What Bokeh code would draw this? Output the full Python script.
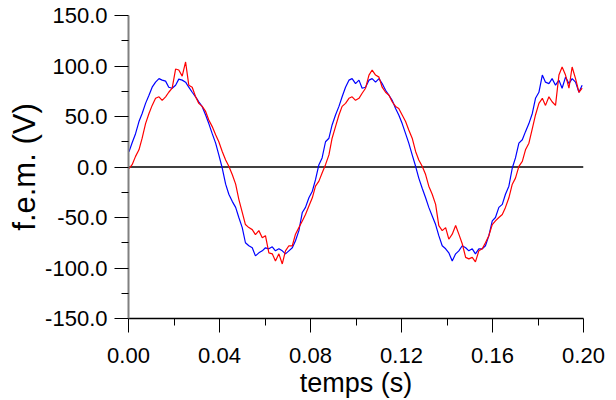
import numpy as np
from bokeh.plotting import figure
from bokeh.models import FixedTicker, PrintfTickFormatter, Span, Range1d
from bokeh.embed import file_html
from bokeh.resources import INLINE

# sample times (s)
T = [0.0002, 0.0016, 0.0031, 0.0046, 0.0060, 0.0075, 0.0090, 0.0104, 0.0119, 0.0134,
     0.0148, 0.0163, 0.0177, 0.0192, 0.0207, 0.0221, 0.0236, 0.0251, 0.0265, 0.0280,
     0.0295, 0.0309, 0.0324, 0.0339, 0.0353, 0.0368, 0.0383, 0.0397, 0.0412, 0.0427,
     0.0441, 0.0456, 0.0471, 0.0485, 0.0500, 0.0514, 0.0529, 0.0544, 0.0558, 0.0573,
     0.0588, 0.0602, 0.0617, 0.0632, 0.0646, 0.0661, 0.0676, 0.0690, 0.0705, 0.0720,
     0.0734, 0.0749, 0.0764, 0.0778, 0.0793, 0.0808, 0.0822, 0.0837, 0.0851, 0.0866,
     0.0881, 0.0895, 0.0910, 0.0925, 0.0939, 0.0954, 0.0969, 0.0983, 0.0998, 0.1013,
     0.1027, 0.1042, 0.1057, 0.1071, 0.1086, 0.1101, 0.1115, 0.1130, 0.1145, 0.1159,
     0.1174, 0.1188, 0.1203, 0.1218, 0.1232, 0.1247, 0.1262, 0.1276, 0.1291, 0.1306,
     0.1320, 0.1335, 0.1350, 0.1364, 0.1379, 0.1394, 0.1408, 0.1423, 0.1438, 0.1452,
     0.1467, 0.1482, 0.1496, 0.1511, 0.1525, 0.1540, 0.1555, 0.1569, 0.1584, 0.1599,
     0.1613, 0.1628, 0.1643, 0.1657, 0.1672, 0.1687, 0.1701, 0.1716, 0.1731, 0.1745,
     0.1760, 0.1775, 0.1789, 0.1804, 0.1819, 0.1833, 0.1848, 0.1862, 0.1877, 0.1892,
     0.1906, 0.1921, 0.1936, 0.1950, 0.1965, 0.1980, 0.1994]

# f.e.m. (V), blue trace
BLUE = [15, 24, 33, 45, 53, 63, 71, 79, 84, 87.5,
        86, 85, 79, 78, 81, 87, 86, 84, 79, 74,
        69.5, 64.6, 59.7, 51.5, 43, 33, 23.6, 12, -1, -17,
        -27, -34, -40, -50, -60, -75, -78, -80, -88, -85,
        -83, -80, -81, -79, -83,
        -81, -83, -86, -83, -80, -73, -63, -45, -40, -30.5,
        -24, -12.5, 2.3, 9, 25, 28.5, 41.6, 51.5, 60, 69.5,
        79, 86, 87.5, 82.6, 86, 78, 79, 86, 87.5, 84,
        87.5, 82.6, 76, 71, 66, 58, 51.5, 43, 33, 23.6,
        12, 0.7, -11, -21, -30.5, -40,
        -48.5, -57, -68, -78, -81, -85, -93, -86, -83, -78,
        -80, -83, -81, -86, -81, -81, -78, -68, -53.4, -50,
        -40, -37, -27, -19, -1, 9, 23.6, 27, 35, 43,
        53, 68, 74, 91, 84, 82.6, 87.5, 81, 86, 78,
        89, 82.6, 87.5, 84, 74, 81]

# f.e.m. (V), red trace
RED = [-1.6, 2.3, 10.5, 17, 28.5, 43, 53, 61, 68, 69.5,
       66, 69.5, 74, 78, 97, 96, 90, 104, 81, 79,
       69.5, 63, 60, 55, 46.5, 40, 32, 25, 15.4, 7,
       0.7, -7.5, -17, -32, -45, -57, -60, -62, -67, -63,
       -70, -68, -85, -86, -93,
       -86, -96, -83, -78, -78, -66.5, -60, -53.4, -47, -38.7,
       -30.5, -19, -14, -6, 2.3, 12, 28.5, 40, 51.5, 60,
       63, 68, 69.5, 66, 68, 73, 78, 91, 96, 91,
       89, 79, 74, 71, 64.6, 60, 58, 51.5, 45, 36.7,
       28.5, 15.4, 7, 0.7, -7.5, -19,
       -27, -37, -58, -63, -60, -71.5, -66.5, -58, -66.5, -76,
       -89.5, -91, -89.5, -94, -83, -81, -75, -68, -57, -53.4,
       -50, -47, -40, -30.5, -17, -11, 0.7, 5.6, 17, 23.6,
       38, 51.5, 63, 68, 61, 69.5, 64.6, 61, 91, 99,
       91, 78, 99, 87.5, 74, 78]

X_TICKS = [0.0, 0.04, 0.08, 0.12, 0.16, 0.20]
X_MINOR = [0.02, 0.06, 0.10, 0.14, 0.18]
Y_TICKS = [-150, -100, -50, 0, 50, 100, 150]
Y_MINOR = [-125, -75, -25, 25, 75, 125]

FONT = "Liberation Sans"

p = figure(width=616, height=400,
           x_range=Range1d(0, 0.2), y_range=Range1d(-150, 150),
           output_backend="svg", toolbar_location=None,
           min_border_left=128, min_border_right=33,
           min_border_top=15, min_border_bottom=80)
p.grid.visible = False
p.outline_line_color = None
p.background_fill_color = "white"
p.border_fill_color = "white"

p.add_layout(Span(location=0, dimension="width", line_color="black",
                  line_width=1.5, level="underlay"))
p.line(T, BLUE, color="#0000ff", line_width=1.2)
p.line(T, RED, color="#ff0000", line_width=1.2)

xa = p.xaxis[0]
ya = p.yaxis[0]
xa.ticker = FixedTicker(ticks=X_TICKS, minor_ticks=X_MINOR)
ya.ticker = FixedTicker(ticks=Y_TICKS, minor_ticks=Y_MINOR)
xa.formatter = PrintfTickFormatter(format="%.2f")
ya.formatter = PrintfTickFormatter(format="%.1f")
xa.axis_label = "temps (s)"
ya.axis_label = "f.e.m. (V)"

for ax in (xa, ya):
    ax.major_tick_in = 0
    ax.major_tick_out = 14
    ax.minor_tick_in = 0
    ax.minor_tick_out = 7
    ax.major_tick_line_color = "black"
    ax.minor_tick_line_color = "black"
    ax.major_tick_line_width = 1
    ax.minor_tick_line_width = 1
    ax.major_label_text_font = FONT
    ax.major_label_text_font_size = "22px"
    ax.major_label_text_color = "black"
    ax.axis_label_text_font = FONT
    ax.axis_label_text_font_style = "normal"
    ax.axis_label_text_color = "black"

xa.axis_label_text_font_size = "27px"
ya.axis_label_text_font_size = "31px"
xa.axis_line_color = "black"
xa.axis_line_width = 1.5
ya.axis_line_color = "#808080"
ya.axis_line_width = 2
ya.major_label_standoff = 7
xa.major_label_standoff = 15
ya.axis_label_standoff = 0
xa.axis_label_standoff = 2

open("out.html", "w").write(file_html(p, INLINE))
